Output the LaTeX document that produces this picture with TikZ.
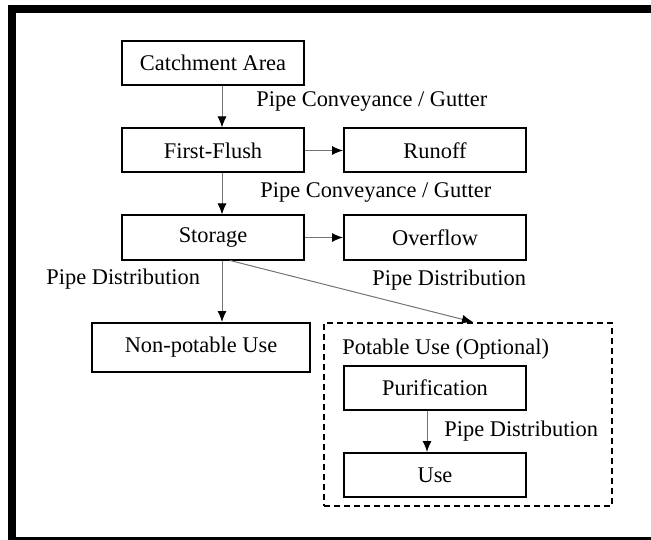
\documentclass[tikz,border=0pt]{standalone}
\usepackage{fontspec}
\setmainfont{Liberation Serif}
\usetikzlibrary{arrows.meta}

\begin{document}
\begin{tikzpicture}[x=0.5pt, y=-0.5pt,
  font=\fontsize{11.2}{13}\selectfont,
  box/.style={draw, line width=1pt, minimum width=91pt, minimum height=22pt, inner sep=0pt},
  group/.style={draw, line width=1pt, dash pattern=on 3pt off 2pt, minimum width=144pt, minimum height=91.5pt, inner sep=0pt},
  flow/.style={draw=black!55, line width=0.5pt, -{Latex[length=5.5pt, width=4.5pt, black]}},
  lbl/.style={anchor=west, inner sep=0pt}]
\useasboundingbox (0,0) rectangle (651,539);
\begin{scope}
\clip (0,0) rectangle (651,539);
\draw[line width=4pt] (12,9) rectangle (680,541);
\end{scope}

\path (213,63) node[box] (catch) {Catchment Area};
\path (213,150.5) node[box] (flush) {First-Flush};
\path (435,150.5) node[box] (runoff) {Runoff};
\path (213,237.5) node[box] (store) {Storage};
\path (435,237.5) node[box] (over) {Overflow};
\path (201,347.5) node[box, minimum width=109pt, minimum height=24.5pt] (nonpot) {Non-potable Use};
\path (468,414.5) node[group] (potable) {};
\path (342,349) node[lbl] (potlbl) {Potable Use (Optional)};
\path (435,387.5) node[box] (purif) {Purification};
\path (435,475) node[box] (use) {Use};

\path (256,102) node[lbl] (pc1) {Pipe Conveyance / Gutter};
\path (260,193) node[lbl] (pc2) {Pipe Conveyance / Gutter};
\path (46,279) node[lbl] (pd1) {Pipe Distribution};
\path (372,280) node[lbl] (pd2) {Pipe Distribution};
\path (444,431) node[lbl] (pd3) {Pipe Distribution};

\draw[flow] ([xshift=4.5pt]catch.south) -- ([xshift=4.5pt]flush.north);
\draw[flow] ([xshift=4.5pt]flush.south) -- ([xshift=4.5pt]store.north);
\draw[flow] (flush.east) -- (runoff.west);
\draw[flow] (store.east) -- (over.west);
\draw[flow] ([xshift=4.5pt]store.south) -- ([xshift=4.5pt]store.south |- nonpot.north);
\draw[flow] ([xshift=8.5pt]store.south) -- ([xshift=2.5pt]potable.north);
\draw[flow] ([xshift=-4pt]purif.south) -- ([xshift=-4pt]purif.south |- use.north);
\end{tikzpicture}
\end{document}
